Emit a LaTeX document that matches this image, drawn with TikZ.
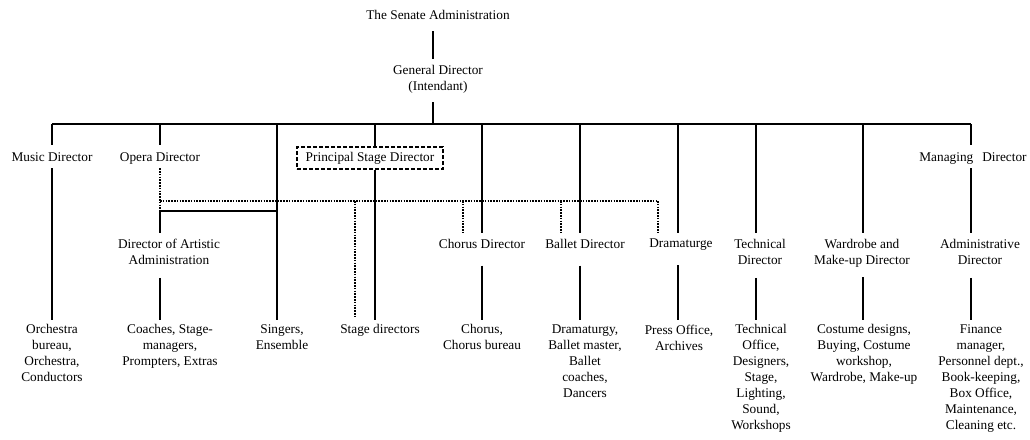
\documentclass[tikz,border=0pt]{standalone}
\usepackage{fontspec}
\setmainfont{Liberation Serif}
\begin{document}
\begin{tikzpicture}[x=1pt,y=-1pt,
  every node/.style={font=\fontsize{13.3}{16}\selectfont, inner sep=0pt, align=center},
  lvltwo/.style={anchor=base, text height=9pt, text depth=0pt, inner ysep=7pt},
  lvlthree/.style={anchor=north, inner ysep=6pt},
  lvlfour/.style={anchor=north, inner ysep=4.5pt},
  solid line/.style={line width=1.3pt, line cap=butt},
  dotline/.style={line width=1.7pt, dash pattern=on 1.5pt off 1.3pt},
  dashbox/.style={draw, line width=1.5pt, dash pattern=on 4pt off 2pt},
  gapone/.style={shorten <=11pt},
  gaptwo/.style={shorten <=7pt}]
\useasboundingbox (0,0) rectangle (1030,439);

% ---- top of the hierarchy
\node[anchor=base, text depth=0pt] (sen) at (438,19) {The Senate Administration};
\node[anchor=north, inner ysep=6pt] (gen) at (438,59) {General Director\\(Intendant)};

% ---- second level
\node[lvltwo] (mus) at (52,161) {Music Director};
\node[lvltwo] (op) at (160,161) {Opera Director};
\node[lvltwo] (mgr) at (973,161) {Managing\hspace{9pt}Director};
\node[dashbox, anchor=base, text height=9pt, text depth=3pt, inner ysep=5pt,
      minimum width=146pt] (psd) at (370,161) {Principal Stage Director};

% ---- third level
\node[lvlthree] (daa) at (169,233) {Director of Artistic\\Administration};
\node[lvlthree, text depth=0pt] (cd) at (482,233) {Chorus Director};
\node[lvlthree, text depth=0pt] (bd) at (585,233) {Ballet Director};
\node[lvlthree, text depth=0pt] (dr) at (681,233) {Dramaturge};
\node[lvlthree] (td) at (760,233) {Technical\\Director};
\node[lvlthree] (wd) at (862,233) {Wardrobe and\\Make-up Director};
\node[lvlthree] (ad) at (980,233) {Administrative\\Director};

% ---- departments
\node[lvlfour] (orch) at (52,320) {Orchestra\\bureau,\\Orchestra,\\Conductors};
\node[lvlfour] (coach) at (170,320) {Coaches, Stage-\\managers,\\Prompters, Extras};
\node[lvlfour] (sing) at (282,320) {Singers,\\Ensemble};
\node[lvlfour] (stg) at (380,320) {Stage directors};
\node[lvlfour] (chb) at (482,320) {Chorus,\\Chorus bureau};
\node[lvlfour] (bal) at (585,320) {Dramaturgy,\\Ballet master,\\Ballet\\coaches,\\Dancers};
\node[lvlfour] (prs) at (679,320) {Press Office,\\Archives};
\node[lvlfour] (tec) at (761,320) {Technical\\Office,\\Designers,\\Stage,\\Lighting,\\Sound,\\Workshops};
\node[lvlfour] (cos) at (864,320) {Costume designs,\\Buying, Costume\\workshop,\\Wardrobe, Make-up};
\node[lvlfour] (fin) at (981,320) {Finance\\manager,\\Personnel dept.,\\Book-keeping,\\Box Office,\\Maintenance,\\Cleaning etc.};

% ---- junctions on the main bar
\coordinate (cG) at (433,124);
\coordinate (cMus) at (52,124);
\coordinate (cOp) at (160,124);
\coordinate (cSing) at (277,124);
\coordinate (cStg) at (375,124);
\coordinate (cCh) at (482,124);
\coordinate (cBal) at (580,124);
\coordinate (cDr) at (678,124);
\coordinate (cTec) at (756,124);
\coordinate (cWd) at (863,124);
\coordinate (cMgr) at (971,124);
\coordinate (art) at (160,211);

% ---- solid reporting lines
\draw[solid line, shorten <=12pt] (cG |- sen.south) -- (cG |- gen.north);
\draw[solid line, shorten <=3pt] (cG |- gen.south) -- (cG);
\draw[solid line] (cMus) -- (cMgr);

\draw[solid line] (cMus) -- (cMus |- mus.north);
\draw[solid line] (cMus |- mus.south) -- (cMus |- orch.north);

\draw[solid line] (cOp) -- (cOp |- op.north);
\draw[solid line] (art) -- (art -| cSing);
\draw[solid line] (art) -- (art |- daa.north);
\draw[solid line, gaptwo] (art |- daa.south) -- (art |- coach.north);

\draw[solid line] (cSing) -- (cSing |- sing.north);

\draw[solid line] (cStg) -- (cStg |- psd.north);
\draw[solid line] (cStg |- psd.south) -- (cStg |- stg.north);

\draw[solid line] (cCh) -- (cCh |- cd.north);
\draw[solid line, gapone] (cCh |- cd.south) -- (cCh |- chb.north);
\draw[solid line] (cBal) -- (cBal |- bd.north);
\draw[solid line, gapone] (cBal |- bd.south) -- (cBal |- bal.north);
\draw[solid line] (cDr) -- (cDr |- dr.north);
\draw[solid line, gapone] (cDr |- dr.south) -- (cDr |- prs.north);

\draw[solid line] (cTec) -- (cTec |- td.north);
\draw[solid line, gaptwo] (cTec |- td.south) -- (cTec |- tec.north);
\draw[solid line] (cWd) -- (cWd |- wd.north);
\draw[solid line, shorten <=4pt] (cWd |- wd.south) -- (cWd |- cos.north);
\draw[solid line] (cMgr) -- (cMgr |- mgr.north);
\draw[solid line] (cMgr |- mgr.south) -- (cMgr |- ad.north);
\draw[solid line, gaptwo] (cMgr |- ad.south) -- (cMgr |- fin.north);

% ---- dotted artistic links from the Opera Director
\coordinate (dL) at (160,201);
\coordinate (dS) at (355,201);
\coordinate (dC) at (463,201);
\coordinate (dB) at (561,201);
\coordinate (dR) at (658,201);
\draw[dotline] (cOp |- op.south) -- (art);
\draw[dotline] (dL) -- (dR);
\draw[dotline] (dS) -- ([yshift=2pt]dS |- stg.north);
\draw[dotline] (dC) -- (dC |- cd.north);
\draw[dotline] (dB) -- (dB |- bd.north);
\draw[dotline] (dR) -- (dR |- dr.north);
\end{tikzpicture}
\end{document}
